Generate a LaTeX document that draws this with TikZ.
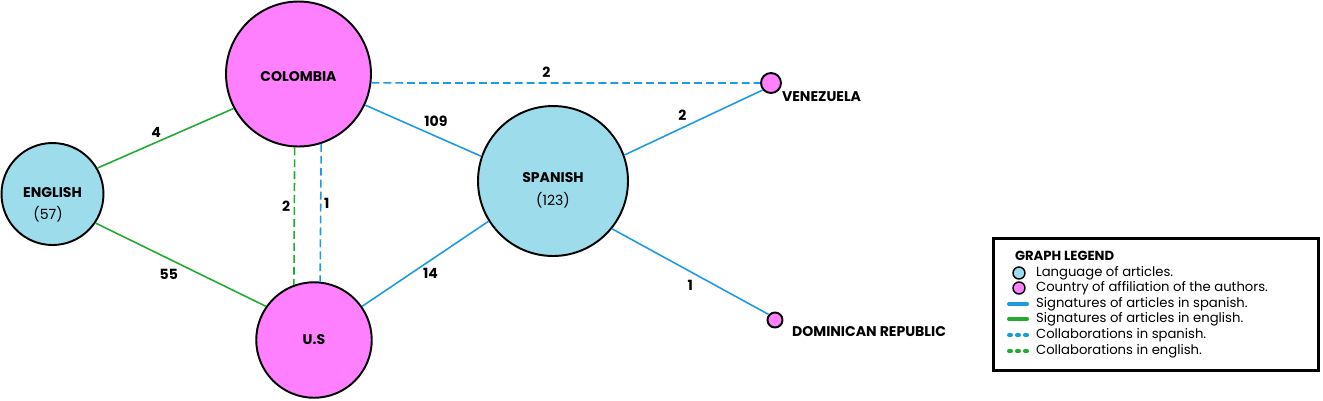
\documentclass[tikz,border=0pt]{standalone}
\usepackage{fontspec}
\setmainfont{Poppins}
\usetikzlibrary{calc}

\definecolor{countrypink}{RGB}{255,128,255}
\definecolor{langblue}{RGB}{157,220,235}
\definecolor{spanishline}{RGB}{28,155,228}
\definecolor{englishline}{RGB}{34,170,51}

\newcommand{\graphfont}{\fontsize{8}{10}\selectfont}
\newcommand{\legendfont}{\fontsize{7.5}{9}\selectfont}

\tikzset{
    country/.style={circle, draw, line width=1.1pt, fill=countrypink, inner sep=0pt, font=\graphfont\bfseries},
    lang/.style={circle, draw, line width=1.1pt, fill=langblue, inner sep=0pt},
    langtext/.style={align=center, inner sep=1pt, font=\graphfont},
    spanishsig/.style={spanishline, line width=0.9pt},
    englishsig/.style={englishline, line width=0.9pt},
    spanishcol/.style={spanishsig, dash pattern=on 4.5pt off 2.3pt},
    englishcol/.style={englishsig, dash pattern=on 4.5pt off 2.3pt},
    count/.style={text=black, font=\graphfont\bfseries, inner sep=1pt},
    placename/.style={font=\graphfont\bfseries, inner sep=1pt, anchor=west},
    keydot/.style={circle, draw, line width=0.8pt, minimum size=0.24cm, inner sep=0pt},
    keyline/.style={line width=2.3pt, line cap=round},
}

\begin{document}
\begin{tikzpicture}[x=0.02cm, y=-0.02cm]
    \useasboundingbox (0, 0) rectangle (1323, 400);

    % nodes
    \node[lang, minimum size=2.04cm] (english) at (52.5, 194) {};
    \node[lang, minimum size=3.0cm] (spanish) at (553, 181) {};
    \node[country, minimum size=2.9cm] (colombia) at (298.5, 74) {};
    \node[country, minimum size=2.31cm] (us) at (314, 340) {};
    \node[country, minimum size=0.4cm] (venezuela) at (771, 83) {};
    \node[country, minimum size=0.3cm] (dominican) at (775, 320) {};
    \node[langtext] (english-txt) at ($(english)+(0, 11)$) {\textbf{ENGLISH}\\[2.5pt]\hspace*{-5pt}(57)};
    \node[langtext] (spanish-txt) at ($(spanish)+(0, 9.5)$) {\textbf{SPANISH}\\[3pt](123)};
    \node[count] (colombia-txt) at ($(colombia)+(0, 3)$) {COLOMBIA};
    \node[count] (us-txt) at (us) {U.S};
    \node[placename] (venname) at ($(venezuela.center)+(9, 14)$) {VENEZUELA};
    \node[placename] (domname) at ($(dominican.center)+(15, 12)$) {DOMINICAN REPUBLIC};

    % signatures
    \draw[englishsig] (english.30) -- node[count, pos=.43, above=1.5pt] (w-eng-col) {4} (colombia.208);
    \draw[englishsig] (english.-34) -- node[count, pos=.43, below=4.7pt] (w-eng-us) {55} (us.145);
    \draw[spanishsig] (colombia.-25) -- node[count, pos=.61, above=4pt] (w-col-spa) {109} (spanish.161);
    \draw[spanishsig] (us.35) -- node[count, pos=.54, below=3.3pt] (w-us-spa) {14} (spanish.212);
    \draw[spanishsig] (spanish.20) -- node[count, pos=.42, above=2.4pt] (w-spa-ven) {2} (venezuela.220);
    \draw[spanishsig] (spanish.-39) -- node[count, pos=.5, below=3.5pt] (w-spa-dom) {1} (dominican.139);

    % collaborations
    \draw[englishcol] (colombia.-93) -- node[count, pos=.43, left=1pt] (c-col-us-en) {2} (us.110);
    \draw[spanishcol] (colombia.-72) -- node[count, pos=.43, right=0.5pt] (c-col-us-es) {1} (us.84);
    \draw[spanishcol] (colombia.-7) -- node[count, pos=.45, above=1.8pt] (c-col-ven) {2} (venezuela.west);

    % legend
    \draw[line width=1.7pt] (993, 238) rectangle (1318, 370);
    \node[anchor=west, inner sep=1pt, font=\legendfont\bfseries] (legendtitle) at (1013, 256) {GRAPH LEGEND};
    \node[keydot, fill=langblue] (keylang) at (1019, 273) {};
    \node[keydot, fill=countrypink] (keycountry) at (1019, 288) {};
    \draw[keyline, spanishline] (1009, 304) -- (1027, 304);
    \draw[keyline, englishline] (1009, 319) -- (1027, 319);
    \draw[keyline, spanishline, dash pattern=on 0.04cm off 0.12cm] (1009, 335) -- (1027, 335);
    \draw[keyline, englishline, dash pattern=on 0.04cm off 0.12cm] (1009, 351) -- (1027, 351);
    \foreach \y/\txt [count=\i] in {273/Language of articles.,
                                    288/Country of affiliation of the authors.,
                                    304/Signatures of articles in spanish.,
                                    319/Signatures of articles in english.,
                                    335/Collaborations in spanish.,
                                    351/Collaborations in english.} {
        \node[anchor=west, inner sep=1pt, font=\legendfont] (legend\i) at (1034, \y) {\txt};
    }
\end{tikzpicture}
\end{document}
